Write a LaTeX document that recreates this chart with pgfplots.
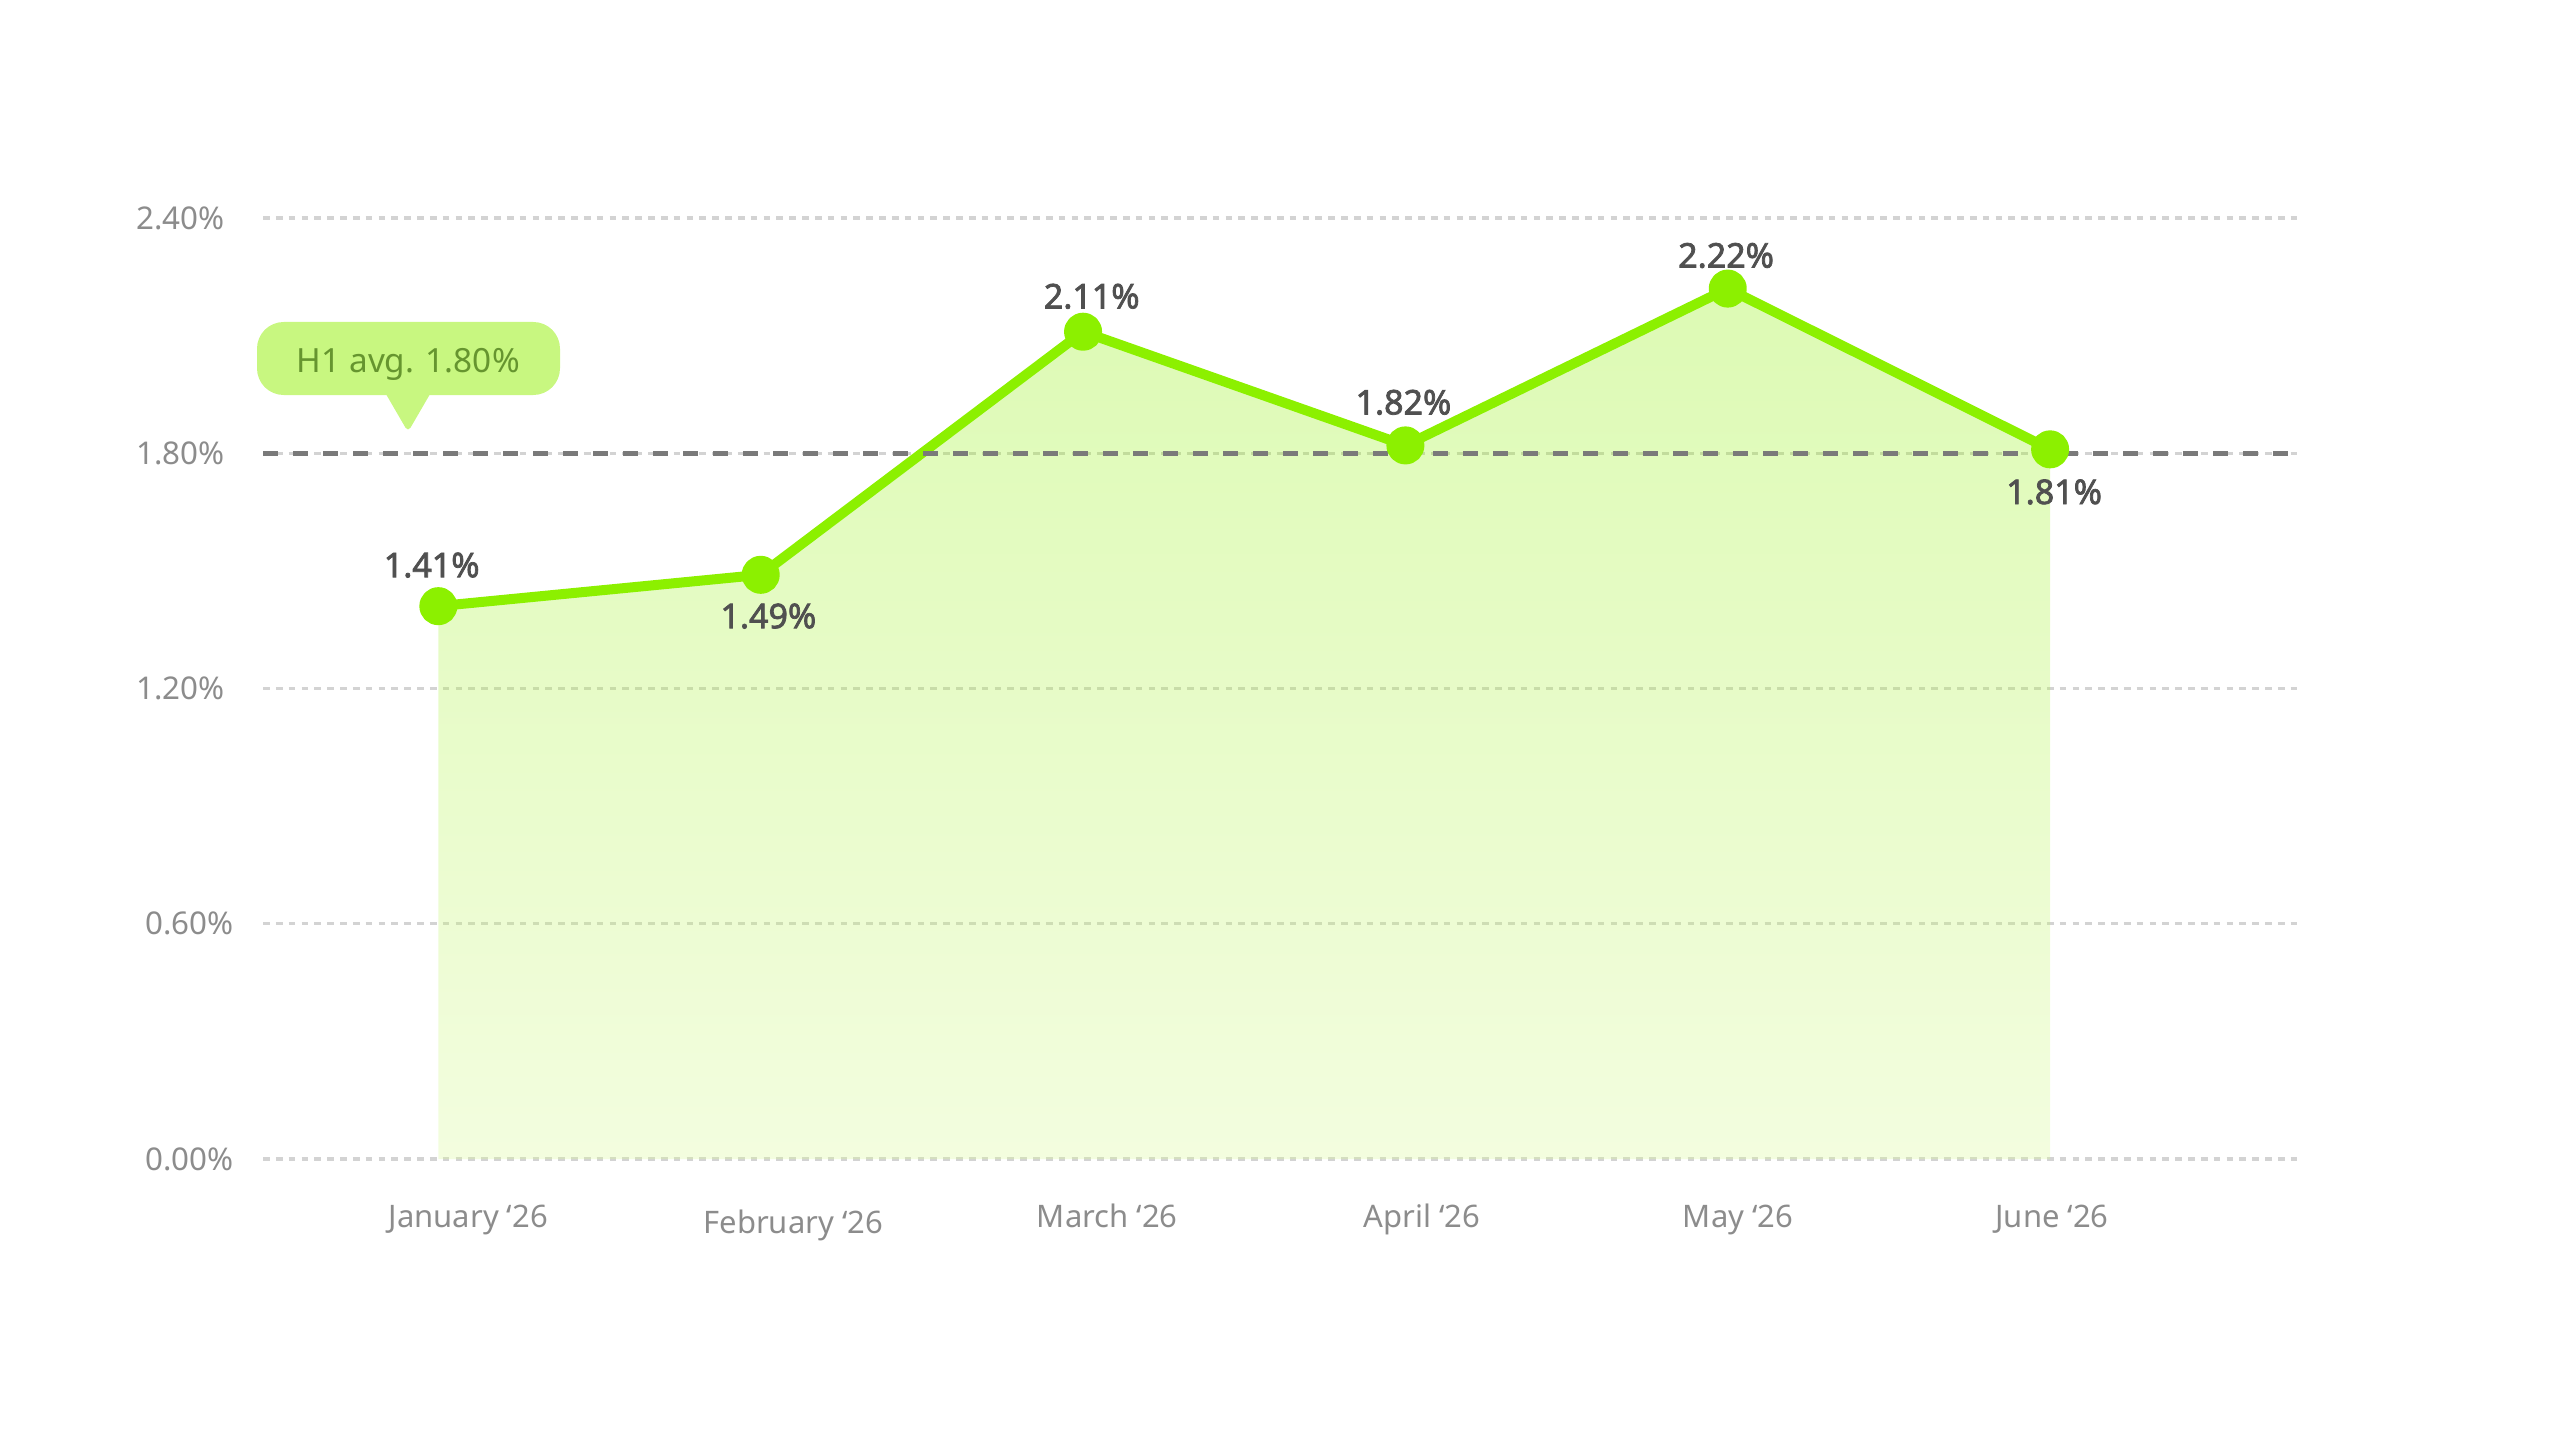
\documentclass[border=0pt]{standalone}
\usepackage{fontspec}
\setmainfont{Noto Sans}
\newfontfamily\lblfont{Noto Sans}[FakeBold=2.2]
\usepackage{pgfplots}
\pgfplotsset{compat=1.18}

\definecolor{lineGreen}{HTML}{8CF000}
\definecolor{fillTop}{HTML}{8DEF05}
\definecolor{fillBot}{HTML}{D7F894}
\definecolor{bubbleFill}{HTML}{C8F780}
\definecolor{bubbleText}{HTML}{66952F}
\definecolor{labelGray}{HTML}{505050}
\definecolor{tickGray}{HTML}{8C8C8C}
\definecolor{gridGray}{HTML}{D3D3D3}
\definecolor{avgGray}{HTML}{7A7A7A}

\tikzset{lbl/.style={anchor=base, inner sep=0pt, text=labelGray,
  font=\fontsize{10.2}{12}\selectfont\lblfont}}

\begin{document}
\begin{tikzpicture}
\path[use as bounding box] (0,0) rectangle (768pt,432pt);
\begin{axis}[
  at={(78.9pt,84.3pt)}, anchor=south west,
  scale only axis, width=610.2pt, height=282.3pt,
  xmin=-0.544, xmax=5.766, ymin=0, ymax=2.4,
  clip=false,
  axis line style={draw=none},
  major tick length=0pt,
  ytick={0,0.6,1.2,1.8,2.4},
  yticklabels={0.00\%\kern-2.7pt,0.60\%\kern-2.7pt,1.20\%,1.80\%,2.40\%},
  xtick={0.093,1.101,2.075,3.052,4.032,5.006},
  xticklabels={January ‘26,\raisebox{-1.8pt}{February ‘26},March ‘26,April ‘26,May ‘26,June ‘26},
  ymajorgrids,
  grid style={gridGray, line width=1pt, dash pattern=on 2pt off 1.85pt},
  tick label style={text=tickGray},
  y tick label style={anchor=east, inner sep=0pt, xshift=-11.4pt,
    font=\fontsize{9.4}{11}\selectfont},
  x tick label style={anchor=base, inner sep=0pt, yshift=-20.4pt,
    font=\fontsize{9.3}{11}\selectfont},
]
% area under the line, translucent so the grid shows through
\addplot[draw=none, top color=fillTop, bottom color=fillBot, fill opacity=0.3]
  coordinates {(0,1.41) (1,1.49) (2,2.11) (3,1.82) (4,2.22) (5,1.81)} \closedcycle;
% monthly rate
\addplot[lineGreen, line width=3pt, line join=round,
  mark=*, mark size=4.2pt, mark options={fill=lineGreen, draw=none}]
  coordinates {(0,1.41) (1,1.49) (2,2.11) (3,1.82) (4,2.22) (5,1.81)};
% H1 average
\addplot[avgGray, line width=1.5pt, dash pattern=on 4.5pt off 4.5pt]
  coordinates {(-0.544,1.8) (5.766,1.8)};

\node[lbl, xshift=-2pt, yshift=8.7pt] at (axis cs:0,1.41) {1.41\%};
\node[lbl, xshift=2.3pt, yshift=-16pt] at (axis cs:1,1.49) {1.49\%};
\node[lbl, xshift=2.6pt, yshift=7pt] at (axis cs:2,2.11) {2.11\%};
\node[lbl, xshift=-0.6pt, yshift=9.3pt] at (axis cs:3,1.82) {1.82\%};
\node[lbl, xshift=-0.5pt, yshift=6.3pt] at (axis cs:4,2.22) {2.22\%};
\node[lbl, xshift=1.2pt, yshift=-16.4pt] at (axis cs:5,1.81) {1.81\%};
\end{axis}

% callout
\fill[bubbleFill, rounded corners=8pt] (77.1pt,313.5pt) rectangle (168pt,335.4pt);
\fill[bubbleFill, rounded corners=1.5pt] (114.5pt,316pt) -- (122.4pt,302.4pt) -- (130.3pt,316pt) -- cycle;
\node[anchor=base, inner sep=0pt, text=bubbleText, font=\fontsize{10}{12}\selectfont]
  at (122.5pt,320.3pt) {H1 avg. 1.80\%};
\end{tikzpicture}
\end{document}
